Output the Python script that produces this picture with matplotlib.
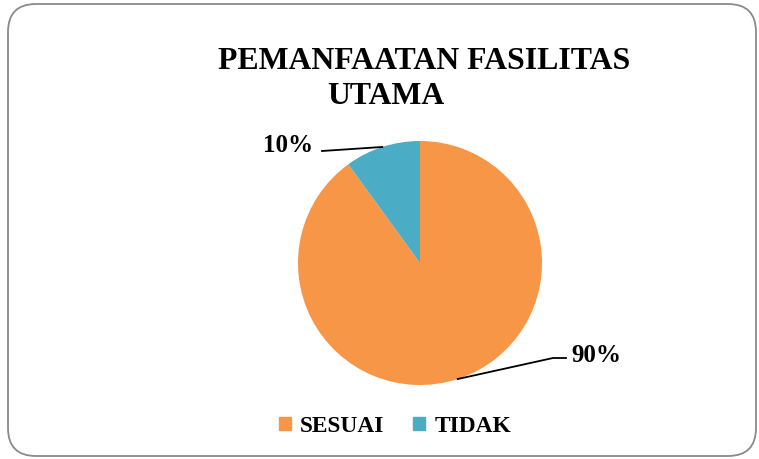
import numpy as np
import matplotlib
matplotlib.use("Agg")
import matplotlib.pyplot as plt
from matplotlib.patches import FancyBboxPatch, Patch

# data
labels = ["SESUAI", "TIDAK"]
values = [90, 10]
colors = ["#F79646", "#4BACC6"]
title_lines = ["PEMANFAATAN FASILITAS", "UTAMA"]

W, H = 759, 459
plt.rcParams["font.family"] = ["Liberation Serif", "DejaVu Serif"]
plt.rcParams["font.weight"] = "bold"

fig = plt.figure(figsize=(W / 100, H / 100), dpi=100)
ax = fig.add_axes([0, 0, 1, 1])

# rounded chart border
box = FancyBboxPatch((8, 3), 748, 452, boxstyle="round,pad=0,rounding_size=28",
                     fc="white", ec="#8a8a8a", lw=1.3, zorder=0)
ax.add_patch(box)

cx, cy, r = 420, H - 263, 122
wedges, _ = ax.pie(values, colors=colors, startangle=90, counterclock=False,
                   radius=r, center=(cx, cy), frame=True,
                   wedgeprops=dict(linewidth=0))
ax.set_xlim(0, W)
ax.set_ylim(0, H)
ax.set_aspect("equal")
ax.axis("off")

# percentage labels with leader lines
pct = [f"{v}%" for v in values]
text_pos = [(596, H - 362), (288, H - 152)]
line_end = [[(553, H - 358), (566, H - 358)], [(322, H - 151)]]
for w, p, tp, le in zip(wedges, pct, text_pos, line_end):
    ang = np.deg2rad((w.theta1 + w.theta2) / 2)
    x0, y0 = cx + r * np.cos(ang), cy + r * np.sin(ang)
    xs = [x0] + [q[0] for q in le]
    ys = [y0] + [q[1] for q in le]
    ax.plot(xs, ys, color="black", lw=1.3)
    ax.text(tp[0], tp[1], p, ha="center", va="baseline", fontsize=18, fontweight="bold")

ax.text(424, H - 69, title_lines[0], ha="center", va="baseline", fontsize=22.9, fontweight="bold")
ax.text(386, H - 104, title_lines[1], ha="center", va="baseline", fontsize=22.9, fontweight="bold")

handles = [Patch(color=c, label=l) for c, l in zip(colors, labels)]
fig.legend(handles=handles, loc="center", bbox_to_anchor=(395 / W, 1 - 426 / H), ncol=2,
           frameon=False, handlelength=0.5, handleheight=0.5,
           handletextpad=0.4, columnspacing=1.25, prop=dict(weight="bold", size=16.8))

fig.savefig("out.png", dpi=100)
